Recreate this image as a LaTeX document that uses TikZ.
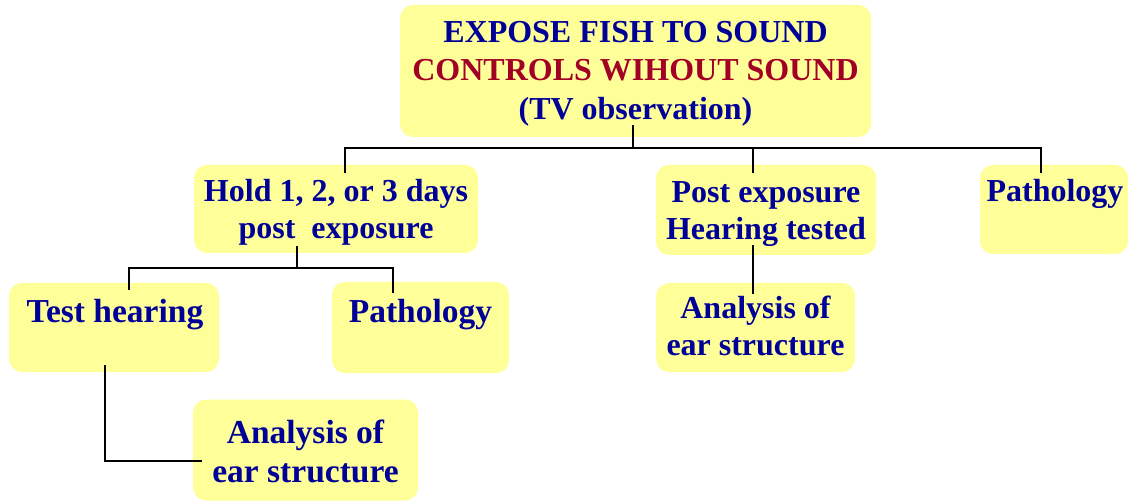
\documentclass[tikz,border=0pt]{standalone}
\usepackage{fontspec}
\setmainfont{Liberation Serif}
\usetikzlibrary{calc}
\definecolor{boxyellow}{RGB}{255,255,153}
\definecolor{navy}{RGB}{0,0,153}
\definecolor{darkred}{RGB}{163,0,38}
\tikzset{
  box/.style={fill=boxyellow, draw=none, rounded corners=13pt, inner sep=0pt},
  txt/.style={inner sep=0pt, align=center, text=navy, font=\bfseries\fontsize{32}{37}\selectfont},
  bigtxt/.style={txt, font=\bfseries\fontsize{33.5}{39}\selectfont},
  conn/.style={draw=black, line width=1.9pt}
}
\begin{document}
\begin{tikzpicture}[x=1pt,y=-1pt]
\clip (0,0) rectangle (1129,502);
% boxes
\node[box, minimum width=471pt, minimum height=132pt] (top) at (635.5,71) {};
\node[box, minimum width=284pt, minimum height=88pt] (hold) at (336,209) {};
\node[box, minimum width=220pt, minimum height=90pt] (post) at (766,210) {};
\node[box, minimum width=148pt, minimum height=89pt] (path1) at (1054,209.5) {};
\node[box, minimum width=210pt, minimum height=89pt] (test) at (114,327.5) {};
\node[box, minimum width=177pt, minimum height=91pt] (path2) at (420.5,327.5) {};
\node[box, minimum width=199pt, minimum height=89pt] (anal2) at (755.5,327.5) {};
\node[box, minimum width=225pt, minimum height=101pt] (anal1) at (305.5,450) {};
% texts
\node[txt, font=\bfseries\fontsize{32}{38.5}\selectfont] (top-t) at ($(top.center)+(0,2.5)$)
  {EXPOSE FISH TO SOUND\\ \textcolor{darkred}{CONTROLS WIHOUT SOUND}\\ (TV observation)};
\node[txt] (hold-t) at ($(hold.center)+(0,3)$) {Hold 1, 2, or 3 days\\ post\ \ exposure};
\node[txt] (post-t) at ($(post.center)+(0,4)$) {Post exposure\\ Hearing tested};
\node[txt, anchor=base] (path1-t) at ($(path1.center)+(1,-7.5)$) {Pathology};
\node[bigtxt, anchor=base] (test-t) at ($(test.center)+(1,-4.5)$) {Test hearing};
\node[bigtxt, anchor=base] (path2-t) at ($(path2.center)+(0,-4.5)$) {Pathology};
\node[txt] (anal2-t) at ($(anal2.center)+(0,-2)$) {Analysis of\\ ear structure};
\node[bigtxt] (anal1-t) at ($(anal1.center)+(0,1)$) {Analysis of\\ ear structure};
% connectors
\draw[conn] ([xshift=-2.5pt,yshift=12pt]top.south) -- ++(0,23);
\draw[conn] ([xshift=9pt,yshift=-8pt]hold.north) -- ++(0,-25) -| ([xshift=-13pt,yshift=-8pt]path1.north);
\draw[conn] ([xshift=-13pt,yshift=-8pt]post.north) -- ++(0,-25);
\draw[conn] ([xshift=-39pt,yshift=7pt]hold.south) -- ++(0,22);
\draw[conn] ([xshift=15pt,yshift=-7pt]test.north) -- ++(0,-22) -| ([xshift=-27.5pt,yshift=-11pt]path2.north);
\draw[conn] ([xshift=-13pt,yshift=10pt]post.south) -- ([xshift=-2.5pt,yshift=-11pt]anal2.north);
\draw[conn] ([xshift=-9pt,yshift=7pt]test.south) |- ([xshift=9pt,yshift=-11pt]anal1.west);
\end{tikzpicture}
\end{document}
